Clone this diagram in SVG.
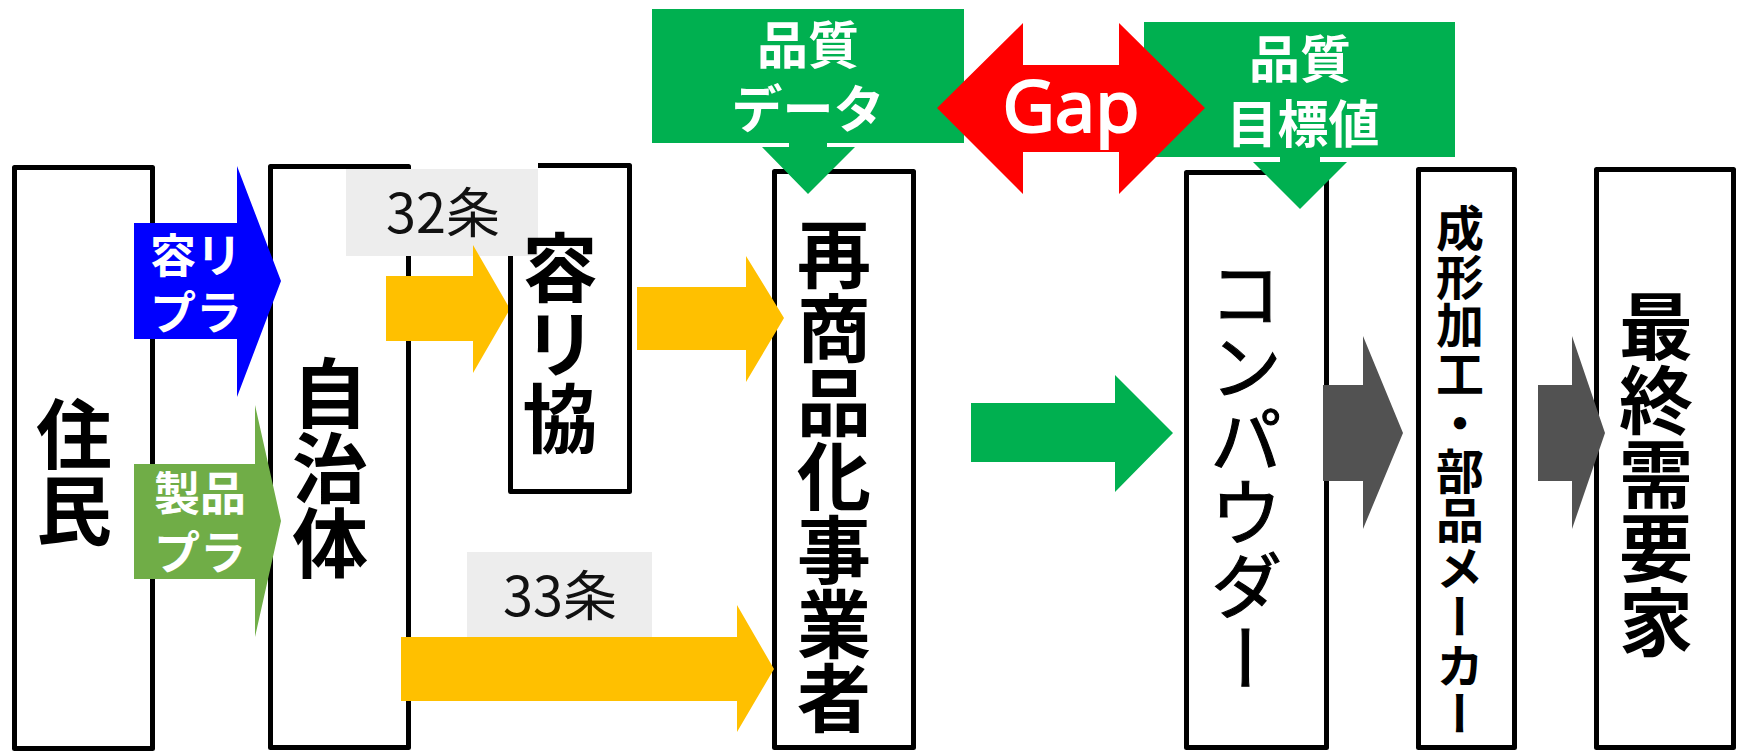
<svg xmlns="http://www.w3.org/2000/svg" width="1742" height="752" viewBox="0 0 1742 752">
<style>
.box{fill:#fff;stroke:#000;stroke-width:5;stroke-linejoin:round}
.vt{font-family:"Noto Sans CJK JP","Noto Sans CJK SC",sans-serif;font-weight:bold;fill:#000;writing-mode:vertical-rl;text-anchor:start}
.vr{font-weight:normal;stroke:#000;stroke-width:1.1}
.ht{font-family:"Noto Sans CJK JP","Noto Sans CJK SC",sans-serif;font-weight:bold;fill:#fff;text-anchor:middle}
.lbl{font-family:"Noto Sans CJK JP","Noto Sans CJK SC",sans-serif;font-weight:normal;fill:#111;text-anchor:middle;font-size:54px}
.lblbg{fill:#ededed}
.yel{fill:#ffc000}
.gry{fill:#525252}
.grn{fill:#00b050}
</style>
<rect width="1742" height="752" fill="#fff"/>
<g id="node-jumin">
<rect class="box" x="14.5" y="167.5" width="138" height="581"/>
<text class="vt" x="74" y="396" font-size="76">住民</text>
</g>
<g id="node-jichitai">
<rect class="box" x="270.5" y="166.5" width="138" height="581"/>
<text class="vt" x="330" y="355" font-size="76" letter-spacing="-1">自治体</text>
</g>
<g id="node-saishohinka">
<rect class="box" x="774.5" y="171.5" width="139" height="576"/>
<text class="vt" x="834" y="217" font-size="74">再商品化事業者</text>
</g>
<g id="node-compounder">
<rect class="box" x="1186.5" y="172.5" width="140" height="575"/>
<text class="vt vr" x="1246" y="257" font-size="73">コンパウダー</text>
</g>
<g id="node-seikei">
<rect class="box" x="1418.5" y="169.5" width="96" height="578"/>
<text class="vt" x="1460" y="204" font-size="48" letter-spacing="0.6">成形加工・部品メーカー</text>
</g>
<g id="node-saishu">
<rect class="box" x="1596.5" y="169.5" width="137" height="578"/>
<text class="vt" x="1656" y="289" font-size="74">最終需要家</text>
</g>
<g id="connectors">
<g id="arrow-yoripura">
<polygon fill="#0000ff" points="134,223 237,223 237,166 281,281 237,397 237,339 134,339"/>
<text class="ht" x="196" y="272" font-size="46">容リ</text>
<text class="ht" x="196" y="329" font-size="46">プラ</text>
</g>
<g id="arrow-seihinpura">
<polygon fill="#70ad47" points="134,464 255,464 255,405 281,521 255,637 255,579 134,579"/>
<text class="ht" x="200" y="510" font-size="46">製品</text>
<text class="ht" x="200" y="569" font-size="46">プラ</text>
</g>
<g id="arrow-32">
<rect class="lblbg" x="346" y="169" width="192" height="87"/>
<text class="lbl" x="443" y="233">32条</text>
<polygon class="yel" points="386,276 473,276 473,245 510,309 473,373 473,341 386,341"/>
</g>
<g id="arrow-yorikyo-out">
<polygon class="yel" points="637,287 746,287 746,256 784,318 746,382 746,350 637,350"/>
</g>
<g id="arrow-33">
<rect class="lblbg" x="467" y="552" width="185" height="85"/>
<text class="lbl" x="560" y="616">33条</text>
<polygon class="yel" points="401,637 737,637 737,605 774,669 737,732 737,701 401,701"/>
</g>
<g id="arrow-to-compounder">
<polygon class="grn" points="971,403 1115,403 1115,375 1173,433 1115,492 1115,462 971,462"/>
</g>
<g id="arrow-to-seikei">
<polygon class="gry" points="1323,385 1363,385 1363,336 1403,433 1363,529 1363,481 1323,481"/>
</g>
<g id="arrow-to-saishu">
<polygon class="gry" points="1538,385 1572,385 1572,336 1605,433 1572,529 1572,481 1538,481"/>
</g>
<g id="callout-quality-data">
<path class="grn" d="M652,9 H964 V143 H827 V147 H855 L808,194 L762,147 H789 V143 H652 Z"/>
<text class="ht" x="808" y="64" font-size="51">品質</text>
<text class="ht" x="808" y="128" font-size="51">データ</text>
</g>
<g id="callout-quality-target">
<path class="grn" d="M1144,22 H1455 V157 H1320 V162 H1347 L1300,209 L1253,162 H1280 V157 H1144 Z"/>
<text class="ht" x="1300" y="78" font-size="51">品質</text>
<text class="ht" x="1303" y="143" font-size="51">目標値</text>
</g>
<g id="arrow-gap">
<polygon fill="#ff0000" points="937,108 1023,23 1023,65 1119,65 1119,23 1205,108 1119,194 1119,152 1023,152 1023,194"/>
<text x="1071" y="132" font-family="'Noto Sans','Liberation Sans',sans-serif" font-size="72" fill="#fff" stroke="#fff" stroke-width="2" text-anchor="middle">Gap</text>
</g>
</g>
<g id="node-yorikyo">
<path d="M510.5,256 V491.5 H629.5 V165.5 H538" fill="none" stroke="#000" stroke-width="5" stroke-linejoin="round"/>
<text class="vt" x="560" y="230" font-size="75" letter-spacing="0.5">容リ協</text>
</g>
</svg>
